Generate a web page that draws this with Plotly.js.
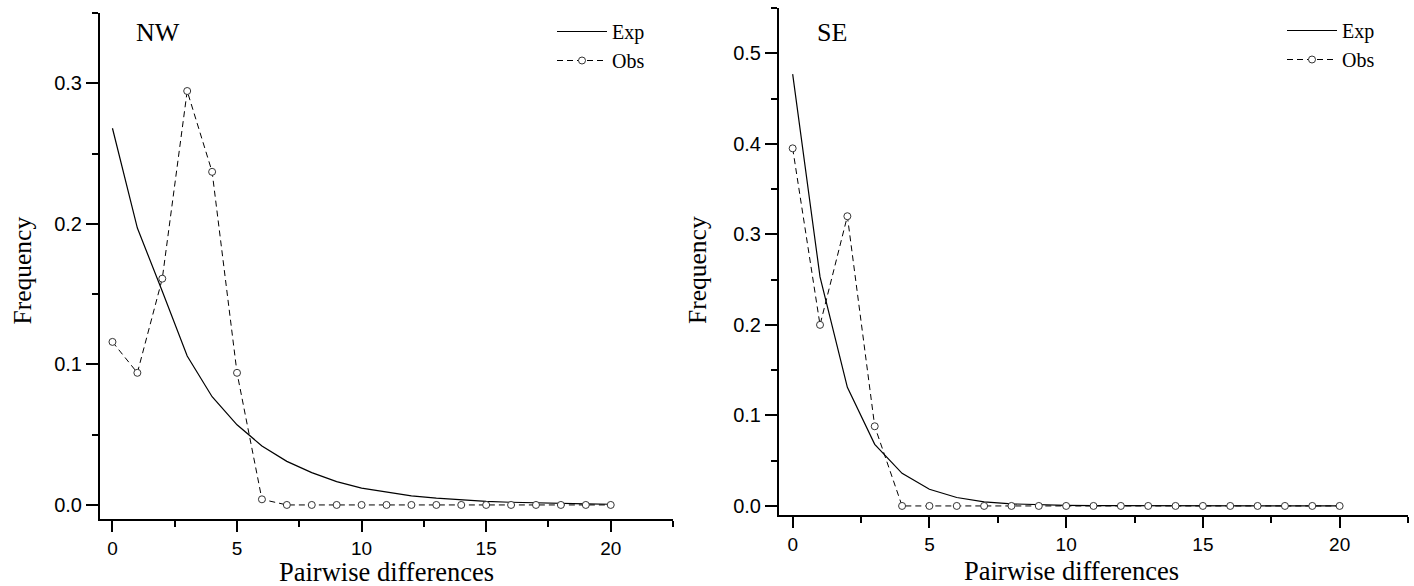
<!DOCTYPE html>
<html>
<head>
<meta charset="utf-8">
<script src="https://cdn.plot.ly/plotly-3.0.1.min.js"></script>
<style>html,body{margin:0;padding:0;background:#fff;}#chart{width:1414px;height:586px;}</style>
</head>
<body>
<div id="chart"></div>
<script>
// Pairwise differences (x categories)
const pairwise = [0,1,2,3,4,5,6,7,8,9,10,11,12,13,14,15,16,17,18,19,20];

// NW panel
const nwExp = [0.268,0.197,0.152,0.106,0.077,0.057,0.042,0.031,0.023,0.0166,0.012,0.009,0.0065,0.0048,0.0035,0.0026,0.0019,0.0014,0.001,0.0007,0.0005];
const nwObs = [0.116,0.094,0.161,0.2945,0.237,0.094,0.004,0,0,0,0,0,0,0,0,0,0,0,0,0,0];

// SE panel
const seExp = [0.477,0.253,0.131,0.068,0.036,0.0185,0.0093,0.0045,0.0023,0.0012,0.0006,0.0003,0.0002,0.0001,0.0001,0,0,0,0,0,0];
const seObs = [0.395,0.200,0.320,0.088,0,0,0,0,0,0,0,0,0,0,0,0,0,0,0,0,0];

const seriesNames = ["Exp","Obs"];
const panelLabels = ["NW","SE"];
const xTitle = "Pairwise differences";
const yTitle = "Frequency";

const W = 1414, H = 586;
const px = v => v / W;
const py = v => 1 - v / H;

const serif = "Liberation Serif, Times New Roman, serif";
const sans = "Liberation Sans, Arial, sans-serif";

function expTrace(y, xa, ya, lg){
  return {x: pairwise, y: y, xaxis: xa, yaxis: ya, legend: lg, name: seriesNames[0],
    type: 'scatter', mode: 'lines', line: {color: '#000', width: 1.2}};
}
function obsTrace(y, xa, ya, lg){
  return {x: pairwise, y: y, xaxis: xa, yaxis: ya, legend: lg, name: seriesNames[1],
    type: 'scatter', mode: 'lines+markers', line: {color: '#000', width: 1, dash: '6px,4px'},
    marker: {symbol: 'circle', size: 7, color: '#fff', line: {color: '#333', width: 1}}};
}

const data = [
  expTrace(nwExp, 'x', 'y', 'legend'),
  obsTrace(nwObs, 'x', 'y', 'legend'),
  expTrace(seExp, 'x2', 'y2', 'legend2'),
  obsTrace(seObs, 'x2', 'y2', 'legend2')
];

function xAxis(domain, anchor){
  return {domain: domain, anchor: anchor, range: [-0.5, 22.5], tick0: 0, dtick: 5,
    showgrid: false, zeroline: false, showline: true, linecolor: '#000', linewidth: 2,
    ticks: 'outside', ticklen: 11, tickwidth: 2, tickcolor: '#000',
    minor: {dtick: 2.5, tick0: 0, ticks: 'outside', ticklen: 6, tickwidth: 2, tickcolor: '#000', showgrid: false},
    tickfont: {family: sans, size: 19, color: '#000'}, fixedrange: true};
}
function yAxis(domain, anchor, range){
  return {domain: domain, anchor: anchor, range: range, tick0: 0, dtick: 0.1, tickformat: '.1f',
    showgrid: false, zeroline: false, showline: true, linecolor: '#000', linewidth: 2,
    ticks: 'outside', ticklen: 12, tickwidth: 2, tickcolor: '#000',
    minor: {dtick: 0.05, tick0: 0, ticks: 'outside', ticklen: 6, tickwidth: 2, tickcolor: '#000', showgrid: false},
    tickfont: {family: sans, size: 20, color: '#000'}, fixedrange: true};
}

function legendAt(xLeft, yTop){
  return {x: px(xLeft), y: py(yTop), xanchor: 'left', yanchor: 'top', xref: 'paper', yref: 'paper',
    bgcolor: 'rgba(0,0,0,0)', borderwidth: 0, itemwidth: 50, tracegroupgap: 0,
    font: {family: serif, size: 20, color: '#000'}};
}

function ann(text, x, y, size, angle, boxH){
  const a = {text: text, x: px(x), y: py(y), xref: 'paper', yref: 'paper', showarrow: false,
    xanchor: 'center', yanchor: 'middle', textangle: angle || 0,
    font: {family: serif, size: size, color: '#000'}};
  if (boxH) a.height = boxH;
  return a;
}

const layout = {
  width: W, height: H,
  margin: {l: 0, r: 0, t: 0, b: 0},
  paper_bgcolor: '#fff', plot_bgcolor: '#fff',
  showlegend: true,
  xaxis: xAxis([px(100), px(673)], 'y'),
  yaxis: yAxis([py(519), py(13)], 'x', [-0.01, 0.35]),
  xaxis2: xAxis([px(779), px(1408)], 'y2'),
  yaxis2: yAxis([py(515), py(8)], 'x2', [-0.01, 0.55]),
  legend: legendAt(552, 12),
  legend2: legendAt(1282, 11),
  annotations: [
    ann(panelLabels[0], 157.5, 33, 26),
    ann(panelLabels[1], 831.7, 33, 26),
    ann(xTitle, 386.5, 572, 26.5, 0, 26),
    ann(xTitle, 1071, 571, 26.5, 0, 26),
    ann(yTitle, 22, 270.5, 25.5, -90),
    ann(yTitle, 697.5, 270.5, 25.5, -90)
  ]
};

Plotly.newPlot('chart', data, layout, {displayModeBar: false, staticPlot: true});
</script>
</body>
</html>
